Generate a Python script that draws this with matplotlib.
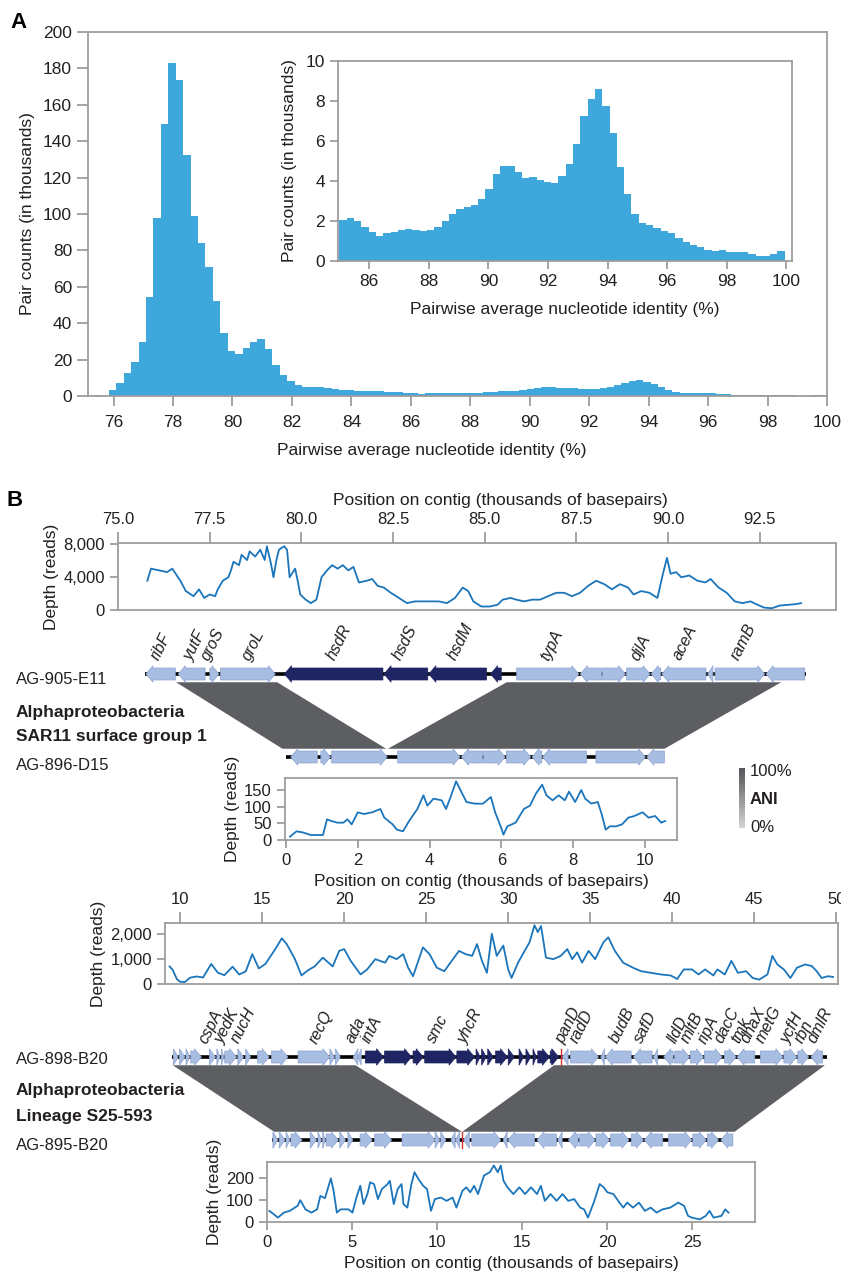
import numpy as np
import matplotlib
matplotlib.use('Agg')
import matplotlib.pyplot as plt
from matplotlib.patches import Polygon
from matplotlib.ticker import FuncFormatter
from matplotlib.colors import LinearSegmentedColormap

plt.rcParams['font.family'] = ['Liberation Sans', 'DejaVu Sans']

W, H = 841, 1275

# ---------------- panel A: pairwise ANI histogram (counts in thousands)
ani_main_start = 75.34
ani_main_width = 0.25
ani_main = [0.6, 0.0, 3.3, 7.3, 12.8, 18.7, 29.9, 54.6, 97.7, 149.2, 183.1, 173.4,
            132.4, 98.8, 84.1, 71.1, 52.1, 34.5, 24.9, 23.1, 26.2, 29.9, 31.2, 25.7,
            17.2, 11.4, 8.4, 6.0, 5.1, 5.1, 4.8, 4.4, 4.0, 3.3, 3.1, 3.0, 2.9, 2.8, 2.7]
ani_inset_start = 85.0
ani_inset_width = 0.245
ani_inset = [2.05, 2.13, 2.0, 1.71, 1.45, 1.26, 1.38, 1.43, 1.55, 1.60, 1.53, 1.51,
             1.56, 1.68, 2.0, 2.35, 2.6, 2.68, 2.78, 3.1, 3.58, 4.33, 4.73, 4.73,
             4.43, 4.16, 4.19, 4.03, 3.94, 3.91, 4.24, 4.83, 5.86, 7.27, 8.09, 8.6,
             7.75, 6.39, 4.69, 3.36, 2.35, 1.88, 1.78, 1.66, 1.50, 1.41, 1.16, 0.97,
             0.80, 0.72, 0.55, 0.50, 0.53, 0.43, 0.43, 0.45, 0.37, 0.25, 0.23, 0.33, 0.50]

# ---------------- panel B: read depth along contigs (kb, reads)
e11_pos = [75.80, 75.90, 76.12, 76.34, 76.48, 76.70, 76.85, 77.06, 77.21, 77.35, 77.50,
           77.65, 77.72, 77.86, 78.01, 78.08, 78.15, 78.30, 78.37, 78.52, 78.59, 78.74,
           78.88, 79.00, 79.06, 79.17, 79.24, 79.32, 79.39, 79.53, 79.61, 79.68, 79.83,
           79.90, 79.97, 80.12, 80.26, 80.41, 80.55, 80.70, 80.84, 80.99, 81.13, 81.28,
           81.42, 81.57, 81.79, 81.93, 82.08, 82.25, 82.44, 82.66, 82.88, 83.10, 83.31,
           83.53, 83.75, 83.97, 84.19, 84.40, 84.55, 84.69, 84.91, 85.13, 85.35, 85.49,
           85.71, 85.86, 86.08, 86.29, 86.51, 86.73, 86.95, 87.17, 87.38, 87.60, 87.82,
           88.04, 88.26, 88.47, 88.69, 88.91, 89.06, 89.27, 89.49, 89.71, 89.85, 89.97,
           90.07, 90.22, 90.36, 90.58, 90.80, 91.02, 91.16, 91.38, 91.60, 91.82, 92.03,
           92.25, 92.40, 92.62, 92.83, 93.05, 93.27, 93.49, 93.63]
e11_depth = [3540, 5000, 4790, 4580, 5000, 3540, 2290, 1670, 2500, 1460, 1875,
             1670, 2500, 3540, 3960, 4790, 5830, 5420, 6670, 6040, 7080, 6460,
             7290, 6040, 7710, 5630, 3960, 6040, 7290, 7710, 7290, 3960, 5000,
             3540, 1875, 1250, 830, 1250, 3960, 4790, 5420, 5000, 5420, 4790,
             5210, 3330, 3540, 3750, 2920, 2710, 2080, 1460, 830, 1040, 1040,
             1040, 1040, 830, 1460, 2710, 2290, 1040, 420, 420, 625, 1250,
             1460, 1250, 1040, 1250, 1250, 1670, 2080, 2080, 1670, 2080, 2920,
             3540, 3125, 2500, 3125, 2710, 1875, 2290, 2080, 1460, 4170, 6300,
             4375, 4580, 3960, 4170, 3540, 3330, 3750, 2710, 2080, 1040, 830,
             1040, 710, 290, 210, 540, 625, 710, 830]

d15_pos = [0.11, 0.29, 0.46, 0.69, 0.91, 1.03, 1.14, 1.26, 1.43, 1.60, 1.71, 1.83, 2.00,
           2.17, 2.40, 2.63, 2.74, 2.97, 3.09, 3.26, 3.43, 3.66, 3.83, 3.94, 4.11, 4.34,
           4.46, 4.57, 4.74, 4.86, 5.03, 5.26, 5.49, 5.71, 5.83, 6.00, 6.06, 6.17, 6.40,
           6.63, 6.80, 6.97, 7.14, 7.26, 7.43, 7.60, 7.77, 7.89, 8.06, 8.23, 8.34, 8.51,
           8.69, 8.80, 8.91, 9.03, 9.20, 9.37, 9.54, 9.71, 9.94, 10.11, 10.29, 10.46, 10.57]
d15_depth = [10, 26, 23, 15, 15, 15, 62, 57, 52, 52, 62, 47, 83, 78, 83, 93, 67, 47, 31,
             26, 57, 93, 134, 103, 124, 119, 93, 124, 176, 150, 114, 109, 109, 129, 83,
             36, 16, 41, 52, 93, 103, 140, 166, 134, 119, 134, 119, 145, 114, 150, 124,
             109, 114, 78, 31, 41, 41, 47, 67, 72, 83, 67, 72, 52, 57]

b898_pos = [9.36, 9.55, 9.8, 10.0, 10.3, 10.6, 11.0, 11.4, 11.9, 12.3, 12.7, 13.2, 13.6,
            14.0, 14.4, 14.8, 15.2, 15.8, 16.2, 16.5, 17.0, 17.4, 17.8, 18.2, 18.7, 19.3,
            19.7, 20.0, 20.4, 21.0, 21.4, 21.9, 22.5, 22.75, 23.2, 23.6, 23.9, 24.2, 24.8,
            25.2, 25.65, 26.1, 26.7, 27.0, 27.4, 27.8, 28.1, 28.4, 28.7, 29.0, 29.3, 29.7,
            30.0, 30.2, 30.6, 31.0, 31.3, 31.6, 31.8, 32.0, 32.3, 32.75, 33.2, 33.6, 33.9,
            34.2, 34.5, 34.9, 35.3, 35.8, 36.1, 36.5, 37.0, 37.6, 38.1, 38.7, 39.3, 39.9,
            40.3, 40.7, 41.2, 41.6, 42.0, 42.5, 42.75, 43.2, 43.6, 44.0, 44.5, 44.9, 45.3,
            45.8, 46.1, 46.4, 46.8, 47.2, 47.6, 48.1, 48.5, 48.8, 49.1, 49.5, 49.8]
b898_depth = [700, 560, 200, 90, 80, 250, 300, 260, 800, 450, 350, 690, 380,
              500, 1190, 620, 800, 1390, 1820, 1590, 990, 340, 550, 700, 1050, 700,
              1320, 1390, 920, 380, 580, 990, 850, 1120, 990, 1190, 650, 310, 1460,
              1190, 650, 510, 1050, 1320, 1190, 1120, 1590, 920, 445, 2000, 1120, 1530,
              580, 240, 850, 1320, 1660, 2340, 2070, 2310, 1050, 990, 1120, 1390, 990,
              1260, 850, 1320, 990, 1660, 1860, 1320, 850, 650, 510, 445, 380, 340,
              200, 580, 580, 380, 580, 340, 580, 380, 920, 445, 510, 240, 175,
              380, 1120, 780, 580, 240, 650, 780, 715, 510, 240, 310, 280]

b895_pos = [0.12, 0.39, 0.62, 0.97, 1.32, 1.78, 1.94, 2.24, 2.59, 2.93, 3.12, 3.39, 3.74,
            3.90, 4.09, 4.32, 4.78, 5.01, 5.24, 5.47, 5.66, 5.89, 6.05, 6.28, 6.51, 6.74,
            7.04, 7.21, 7.44, 7.67, 7.90, 8.01, 8.24, 8.48, 8.66, 8.89, 9.17, 9.40, 9.63,
            9.86, 10.21, 10.55, 10.90, 11.13, 11.48, 11.71, 11.94, 12.17, 12.40, 12.75,
            13.09, 13.33, 13.56, 13.74, 13.90, 14.13, 14.48, 14.83, 15.17, 15.52, 15.87,
            16.10, 16.33, 16.67, 17.02, 17.37, 17.71, 18.06, 18.41, 18.64, 18.87, 19.21,
            19.56, 19.79, 20.02, 20.37, 20.72, 20.95, 21.18, 21.52, 21.87, 22.22, 22.56,
            22.91, 23.26, 23.72, 24.18, 24.53, 24.76, 24.99, 25.45, 25.80, 26.03, 26.26,
            26.72, 26.95, 27.14]
b895_depth = [51, 35, 20, 43, 51, 74, 100, 58, 43, 58, 120, 109, 200,
              143, 43, 58, 58, 43, 112, 166, 82, 128, 182, 174, 105, 151,
              171, 189, 82, 151, 174, 82, 66, 174, 228, 197, 166, 151, 51,
              105, 112, 97, 112, 66, 143, 159, 136, 166, 128, 213,
              228, 259, 228, 259, 189, 159, 128, 159, 128, 159, 128,
              166, 97, 128, 97, 128, 97, 105, 66, 58, 20, 89,
              174, 159, 136, 128, 89, 66, 89, 66, 89, 51, 66,
              43, 58, 66, 89, 74, 28, 20, 12, 28, 51, 20,
              28, 58, 43]

# ---------------- gene maps: (start kb, end kb, strand, dark)
e11_genes = [(75.80, 76.60, -1, 0), (76.68, 77.41, -1, 0), (77.54, 77.79, 1, 0),
             (77.83, 79.32, 1, 0), (79.57, 82.25, -1, 1), (82.28, 83.47, -1, 1),
             (83.50, 85.07, -1, 1), (85.18, 85.47, -1, 1), (85.89, 87.58, 1, 0),
             (87.62, 88.20, -1, 0), (88.23, 88.85, 1, 0), (88.88, 89.52, 1, 0),
             (89.55, 89.81, -1, 0), (89.84, 91.04, -1, 0), (91.09, 91.23, -1, 0),
             (91.29, 92.64, 1, 0), (92.68, 93.73, -1, 0)]
e11_span = (75.78, 93.75)
e11_labels = [('ribF', 76.21), ('yutF', 77.13), ('groS', 77.63), ('groL', 78.74),
              ('hsdR', 81.05), ('hsdS', 82.86), ('hsdM', 84.36), ('typA', 86.84),
              ('djlA', 89.26), ('aceA', 90.48), ('ramB', 92.06)]

d15_genes = [(0.13, 0.87, -1, 0), (0.97, 1.24, 1, 0), (1.27, 2.82, 1, 0),
             (3.11, 4.85, 1, 0), (4.89, 5.48, -1, 0), (5.51, 6.11, 1, 0),
             (6.14, 6.82, 1, 0), (6.86, 7.13, -1, 0), (7.15, 8.38, -1, 0),
             (8.64, 10.02, 1, 0), (10.06, 10.55, -1, 0)]
d15_span = (0.0, 10.55)

b898_genes = [(9.59, 9.88, 1, 0), (9.96, 10.30, 1, 0), (10.36, 10.59, 1, 0), (10.65, 11.30, 1, 0),
              (11.78, 12.16, 1, 0), (12.24, 12.44, 1, 0), (12.52, 12.67, 1, 0), (12.72, 13.44, 1, 0),
              (13.52, 13.86, 1, 0), (14.00, 14.29, 1, 0), (14.72, 15.43, 1, 0), (15.57, 16.57, 1, 0),
              (17.19, 19.13, 1, 0), (19.13, 19.41, 1, 0), (19.47, 19.76, 1, 0), (20.55, 20.84, -1, 0),
              (20.84, 21.04, -1, 0),
              (21.29, 22.40, 1, 1), (22.46, 24.11, 1, 1), (24.20, 24.82, 1, 1), (24.91, 26.82, 1, 1),
              (26.87, 27.95, 1, 1), (28.04, 28.29, 1, 1), (28.38, 28.66, 1, 1), (28.75, 29.09, 1, 1),
              (29.23, 29.95, 1, 1), (30.00, 30.37, 1, 1), (30.66, 30.94, 1, 1), (31.08, 31.37, 1, 1),
              (31.51, 31.71, 1, 1), (31.80, 32.51, 1, 1), (32.56, 33.08, 1, 1),
              (33.30, 33.65, -1, 0), (33.79, 35.50, 1, 0), (35.64, 35.87, -1, 0), (35.92, 37.49, -1, 0),
              (37.63, 38.77, -1, 0), (38.85, 39.11, -1, 0), (39.48, 40.05, -1, 0), (40.14, 41.05, 1, 0),
              (41.10, 41.90, 1, 0), (41.96, 43.04, 1, 0), (43.18, 43.89, 1, 0), (43.95, 45.03, -1, 0),
              (45.37, 46.74, 1, 0), (46.80, 47.59, 1, 0), (47.65, 48.31, 1, 0), (48.45, 49.16, -1, 0)]
b898_span = (9.50, 49.40)
b898_break = [33.22]
b898_labels = [('cspA', 11.87), ('yedK', 12.87), ('nucH', 13.86), ('recQ', 18.56),
               ('ada', 20.70), ('intA', 21.69), ('smc', 25.68), ('yhcR', 27.67),
               ('panD', 33.65), ('radD', 34.50), ('budB', 36.92), ('safD', 38.34),
               ('lldD', 40.34), ('mltB', 41.19), ('ripA', 42.19), ('dacC', 43.32),
               ('tmk', 44.18), ('dnaX', 44.89), ('metG', 45.89), ('ycfH', 47.31),
               ('rbn', 48.02), ('dmlR', 49.02)]

b895_genes = [(0.33, 0.62, 1, 0), (0.70, 1.04, 1, 0), (1.10, 1.33, 1, 0), (1.39, 2.04, 1, 0),
              (2.52, 2.90, 1, 0), (2.98, 3.18, 1, 0), (3.26, 3.41, 1, 0), (3.46, 4.18, 1, 0),
              (4.26, 4.60, 1, 0), (4.74, 5.03, 1, 0), (5.46, 6.17, 1, 0), (6.31, 7.31, 1, 0),
              (7.93, 9.87, 1, 0), (9.87, 10.15, 1, 0), (10.21, 10.50, 1, 0), (10.80, 11.05, -1, 0),
              (11.08, 11.32, -1, 0),
              (11.54, 11.89, -1, 0), (12.03, 13.74, 1, 0), (13.88, 14.11, -1, 0), (14.16, 15.73, -1, 0),
              (15.87, 17.01, -1, 0), (17.09, 17.35, -1, 0), (17.72, 18.29, -1, 0), (18.38, 19.29, 1, 0),
              (19.34, 20.14, 1, 0), (20.20, 21.28, 1, 0), (21.42, 22.13, 1, 0), (22.19, 23.27, -1, 0),
              (23.61, 24.98, 1, 0), (25.04, 25.83, 1, 0), (25.89, 26.55, 1, 0), (26.69, 27.40, -1, 0)]
b895_span = (0.30, 27.40)
b895_break = [11.44]

# synteny blocks: top contig range -> bottom contig range (kb)
sar11_top = [(76.62, 79.37), (85.62, 93.09)]
sar11_bot = [(-0.10, 2.79), (2.84, 10.55)]
s25_top = [(9.55, 20.69), (32.80, 49.30)]
s25_bot = [(0.40, 11.45), (11.47, 27.50)]

# ---------------- styling
GRAY = '#9d9d9d'
TXT = '#231f20'
BAR = '#3ea7dc'
LINE = '#1b75bb'
LIGHT = '#a8bde2'
DARK = '#1f2462'
SYN = '#5d5e62'

fig = plt.figure(figsize=(W / 100, H / 100), dpi=100)


def px_axes(l, t, r, b, **kw):
    return fig.add_axes([l / W, 1 - b / H, (r - l) / W, (b - t) / H], **kw)


def style(ax, size):
    for s in ax.spines.values():
        s.set_color(GRAY)
        s.set_linewidth(1.3)
    ax.tick_params(color=GRAY, width=1.3, length=6, labelcolor=TXT, labelsize=size)


ov = px_axes(0, 0, W, H)
ov.set_xlim(0, W)
ov.set_ylim(H, 0)
ov.axis('off')

# ---- panel A
axA = px_axes(88, 32, 827, 396)
edges = ani_main_start + ani_main_width * np.arange(len(ani_main))
axA.bar(edges, ani_main, width=ani_main_width, align='edge', color=BAR, linewidth=0)
edges_in = ani_inset_start + ani_inset_width * np.arange(len(ani_inset))
axA.bar(edges_in, ani_inset, width=ani_inset_width, align='edge', color=BAR, linewidth=0)
axA.set_xlim(75.14, 100)
axA.set_ylim(0, 200)
axA.set_xticks(np.arange(76, 101, 2))
axA.set_yticks(np.arange(0, 201, 20))
style(axA, 12.5)
axA.tick_params(axis='x', length=7, pad=7)
axA.tick_params(axis='y', length=8)
axA.set_xlabel('Pairwise average nucleotide identity (%)', fontsize=12.5, color=TXT)
axA.xaxis.set_label_coords(0.465, -0.13)
axA.set_ylabel('Pair counts (in thousands)', fontsize=12.5, color=TXT, labelpad=6)

axI = px_axes(338, 61, 792, 261)
axI.bar(edges_in, ani_inset, width=ani_inset_width, align='edge', color=BAR, linewidth=0)
axI.set_xlim(84.95, 100.19)
axI.set_ylim(0, 10)
axI.set_xticks(np.arange(86, 101, 2))
axI.set_yticks(np.arange(0, 11, 2))
style(axI, 12.5)
axI.set_xlabel('Pairwise average nucleotide identity (%)', fontsize=12.5, color=TXT, labelpad=9)
axI.set_ylabel('Pair counts (in thousands)', fontsize=12.5, color=TXT, labelpad=6)

ov.text(19, 22, 'A', fontsize=16, fontweight='bold', ha='center', va='center')
ov.text(15, 500, 'B', fontsize=16, fontweight='bold', ha='center', va='center')

comma = FuncFormatter(lambda v, p: f'{int(v):,}')


def depth_axes(box, xlim, ylim, pos, depth, xticks, yticks, top, xfmt=None, xlabel=True):
    ax = px_axes(*box)
    ax.plot(pos, depth, color=LINE, lw=1.3)
    ax.set_xlim(xlim)
    ax.set_ylim(ylim)
    ax.set_xticks(xticks)
    ax.set_yticks(yticks)
    ax.yaxis.set_major_formatter(comma)
    if xfmt:
        ax.xaxis.set_major_formatter(FuncFormatter(xfmt))
    style(ax, 12)
    if top:
        ax.xaxis.tick_top()
        ax.xaxis.set_label_position('top')
        ax.tick_params(axis='x', length=8, pad=3.5)
    if xlabel:
        ax.set_xlabel('Position on contig (thousands of basepairs)', fontsize=12.5, color=TXT, labelpad=4)
    ax.set_ylabel('Depth (reads)', fontsize=12.5, color=TXT, labelpad=3)
    return ax


def gene_row(box_lr, yc, xlim, genes, span, breaks=(), labels=()):
    l, r = box_lr
    ax = px_axes(l, yc - 15, r, yc + 15)
    ax.set_xlim(xlim)
    ax.set_ylim(-1, 1)
    ax.axis('off')
    ax.patch.set_alpha(0)
    ppk = (r - l) / (xlim[1] - xlim[0])
    hk = 7 / ppk
    ax.plot(span, [0, 0], color='black', lw=2.6, solid_capstyle='butt', zorder=1)
    bh, hh = 0.4, 0.55
    for s, e, d, dark in genes:
        h = min(hk, e - s)
        if d > 0:
            pts = [(s, -bh), (e - h, -bh), (e - h, -hh), (e, 0), (e - h, hh), (e - h, bh), (s, bh)]
        else:
            pts = [(e, -bh), (s + h, -bh), (s + h, -hh), (s, 0), (s + h, hh), (s + h, bh), (e, bh)]
        ax.add_patch(Polygon(pts, closed=True, facecolor=DARK if dark else LIGHT,
                             edgecolor=DARK if dark else '#8ea5d2', lw=0.5, zorder=2))
    for x in breaks:
        ax.plot([x, x], [-hh, hh], color='#d0312d', lw=1, zorder=3)
    for name, x in labels:
        ax.text(x, 0.75, name, rotation=63, ha='center', va='bottom', style='italic',
                fontsize=11.5, color=TXT, clip_on=False)
    return ax


def synteny(ax_top, ax_bot, tops, bots):
    inv = ov.transData.inverted()
    for (t0, t1), (b0, b1) in zip(tops, bots):
        pts = [ax_top.transData.transform((t0, -0.55)), ax_top.transData.transform((t1, -0.55)),
               ax_bot.transData.transform((b1, 0.55)), ax_bot.transData.transform((b0, 0.55))]
        ov.add_patch(Polygon(inv.transform(pts), closed=True, facecolor=SYN, edgecolor='none', zorder=0))


# ---- block 1: SAR11 surface group 1
xl1 = (75.04, 94.58)
d1 = depth_axes((118, 543, 836, 610), xl1, (0, 8100), e11_pos, e11_depth,
                np.arange(75, 94, 2.5), [0, 4000, 8000], True, lambda v, p: f'{v:.1f}')
d1.xaxis.set_label_coords(0.532, 1.57)
r1 = gene_row((118, 836), 674, xl1, e11_genes, e11_span, labels=e11_labels)
xl2 = (-0.03, 10.9)
depth_axes((285, 778, 677, 840), xl2, (0, 186), d15_pos, d15_depth,
           np.arange(0, 11, 2), [0, 50, 100, 150], False)
r2 = gene_row((285, 677), 757, xl2, d15_genes, d15_span)
synteny(r1, r2, sar11_top, sar11_bot)

# ---- block 2: lineage S25-593
xl3 = (9.08, 50.1)
depth_axes((165, 923, 838, 984), xl3, (0, 2430), b898_pos, b898_depth,
           np.arange(10, 51, 5), [0, 1000, 2000], True, xlabel=False)
r3 = gene_row((165, 838), 1057, xl3, b898_genes, b898_span, b898_break, b898_labels)
xl4 = (-0.02, 28.7)
depth_axes((267, 1162, 755, 1222), xl4, (0, 275), b895_pos, b895_depth,
           np.arange(0, 26, 5), [0, 100, 200], False)
r4 = gene_row((267, 755), 1140, xl4, b895_genes, b895_span, b895_break)
synteny(r3, r4, s25_top, s25_bot)

# ---- left-hand labels
ov.text(16, 679, 'AG-905-E11', fontsize=12, color=TXT, va='center')
ov.text(16, 712, 'Alphaproteobacteria', fontsize=12.5, color=TXT, va='center', fontweight='bold')
ov.text(16, 737, 'SAR11 surface group 1', fontsize=12.5, color=TXT, va='center', fontweight='bold')
ov.text(16, 765, 'AG-896-D15', fontsize=12, color=TXT, va='center')
ov.text(16, 1060, 'AG-898-B20', fontsize=12, color=TXT, va='center')
ov.text(16, 1091, 'Alphaproteobacteria', fontsize=12.5, color=TXT, va='center', fontweight='bold')
ov.text(16, 1116, 'Lineage S25-593', fontsize=12.5, color=TXT, va='center', fontweight='bold')
ov.text(16, 1145, 'AG-895-B20', fontsize=12, color=TXT, va='center')

# ---- ANI scale
cax = px_axes(739, 768, 745, 828)
grad = np.linspace(1, 0, 60).reshape(-1, 1)
cax.imshow(grad, aspect='auto', cmap=LinearSegmentedColormap.from_list('ani', ['#d3d3d3', '#555659']))
cax.axis('off')
ov.text(750, 771, '100%', fontsize=12, color=TXT, va='center')
ov.text(750, 800, 'ANI', fontsize=12, color=TXT, va='center', fontweight='bold')
ov.text(750, 828, '0%', fontsize=12, color=TXT, va='center')

fig.savefig('out.png', dpi=100)
